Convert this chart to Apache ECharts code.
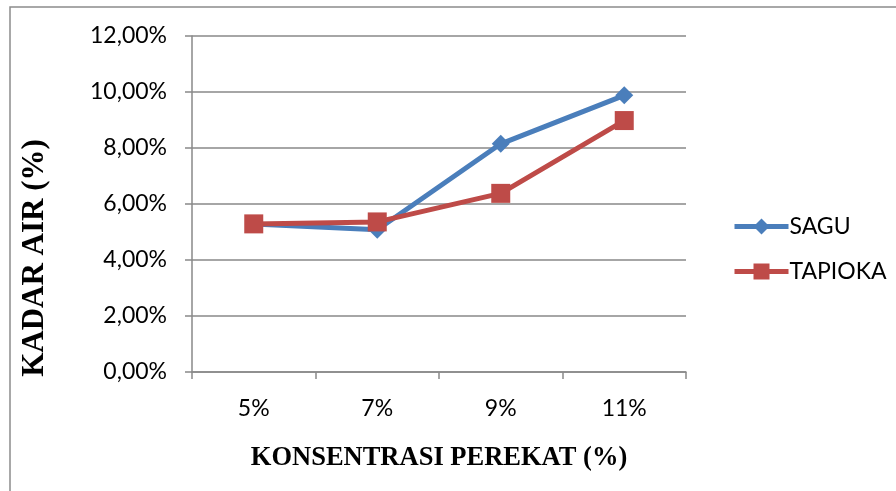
<!DOCTYPE html>
<html>
<head>
<meta charset="utf-8">
<script src="https://cdn.jsdelivr.net/npm/echarts@6/dist/echarts.min.js"></script>
<style>
  html, body { margin: 0; padding: 0; background: #fff; }
  #chart { width: 896px; height: 491px; }
</style>
</head>
<body>
<div id="chart"></div>
<script>
// Binder concentration (x) and moisture content (%) for each binder type
const categories = ['5%', '7%', '9%', '11%'];
const sagu = [5.29, 5.08, 8.15, 9.88];
const tapioka = [5.29, 5.36, 6.38, 8.98];
const yTicks = { min: 0, max: 12, interval: 2 };

const tickFont = 'Lato, "Open Sans", sans-serif';
const titleFont = '"Liberation Serif", "DejaVu Serif", serif';
const gridGray = '#898989';

const chart = echarts.init(document.getElementById('chart'), null, { renderer: 'canvas' });
chart.setOption({
  backgroundColor: '#ffffff',
  animation: false,
  graphic: [
    {
      type: 'rect',
      shape: { x: 10, y: 7, width: 900, height: 500 },
      style: { fill: 'none', stroke: '#8c8c8c', lineWidth: 1.5 },
      silent: true
    },
    {
      // vertical axis title, drawn rotated beside the value axis
      type: 'text',
      x: 35,
      y: 258,
      rotation: Math.PI / 2,
      style: {
        text: 'KADAR AIR (%)',
        font: 'bold 31px "Liberation Serif", "DejaVu Serif", serif',
        fill: '#000',
        align: 'center',
        verticalAlign: 'middle'
      },
      silent: true
    }
  ],
  grid: { left: 192, right: 210, top: 36, bottom: 119, containLabel: false },
  legend: {
    orient: 'vertical',
    left: 727,
    top: 210,
    itemWidth: 54,
    itemHeight: 20,
    itemGap: 22,
    lineStyle: { width: 5 },
    textStyle: { fontFamily: tickFont, fontSize: 23, color: '#000', padding: [0, 0, 0, -4] },
    data: ['SAGU', 'TAPIOKA']
  },
  xAxis: {
    type: 'category',
    data: categories,
    boundaryGap: true,
    name: 'KONSENTRASI PEREKAT (%)',
    nameLocation: 'middle',
    nameGap: 73,
    nameTextStyle: { fontFamily: titleFont, fontWeight: 'bold', fontSize: 26.5, color: '#000' },
    axisLine: { lineStyle: { color: gridGray, width: 1.5 } },
    axisTick: { show: true, alignWithLabel: false, length: 7, lineStyle: { color: gridGray, width: 1.5 } },
    axisLabel: { fontFamily: tickFont, fontSize: 23, color: '#000', margin: 25 }
  },
  yAxis: {
    type: 'value',
    min: yTicks.min,
    max: yTicks.max,
    interval: yTicks.interval,
    axisLine: { show: true, lineStyle: { color: gridGray, width: 1.5 } },
    axisTick: { show: true, length: 7, lineStyle: { color: gridGray, width: 1.5 } },
    splitLine: { show: true, lineStyle: { color: gridGray, width: 1.5 } },
    axisLabel: {
      fontFamily: tickFont, fontSize: 23, color: '#000', margin: 25,
      formatter: v => v.toFixed(2).replace('.', ',') + '%'
    }
  },
  series: [
    {
      name: 'SAGU',
      type: 'line',
      data: sagu,
      symbol: 'diamond',
      symbolSize: 18,
      itemStyle: { color: '#4a7ebb' },
      lineStyle: { color: '#4a7ebb', width: 5 },
      z: 2
    },
    {
      name: 'TAPIOKA',
      type: 'line',
      data: tapioka,
      symbol: 'rect',
      symbolSize: 19,
      itemStyle: { color: '#be4b48' },
      lineStyle: { color: '#be4b48', width: 5 },
      z: 3
    }
  ]
});
</script>
</body>
</html>
